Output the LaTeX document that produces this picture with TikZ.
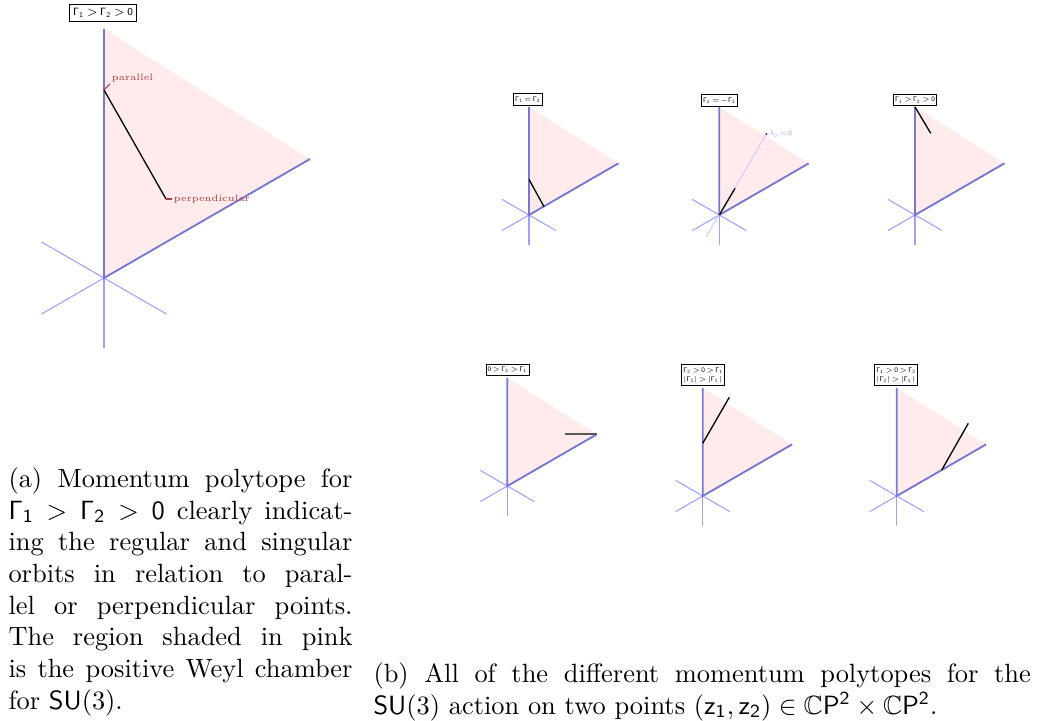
\RequirePackage{fix-cm}
\documentclass[tikz,border=0pt]{standalone}
\usepackage{amssymb}
\definecolor{axisblue}{RGB}{160,160,255}
\definecolor{edgeblue}{RGB}{120,120,210}
\definecolor{pinkfill}{RGB}{255,235,235}
\definecolor{labred}{RGB}{170,60,60}
\definecolor{lavline}{RGB}{205,205,255}
\definecolor{lamblue}{RGB}{150,150,255}
\newcommand\sG{\mathsf{\Gamma}}
\newcommand\weyl[5]{%
  \begin{scope}[shift={(#2,#3)}, scale=#4]
    \coordinate (#1O) at (0,0);
    \coordinate (#1A) at (0,-249);
    \coordinate (#1B) at (206,-119);
    \coordinate (#1D) at (0,70);
    \coordinate (#1L) at (-62.4,36);
    \coordinate (#1U) at (-62.4,-36);
    \coordinate (#1R) at (62.4,36);
    \fill[pinkfill] (#1O) -- (#1A) -- (#1B) -- cycle;
    \draw[weylaxis] (#1D) -- (#1A);
    \draw[weylaxis] (#1L) -- (#1B);
    \draw[weylaxis] (#1U) -- (#1R);
    \draw[weyledge] (#1A) -- (#1O) -- (#1B);
    #5
  \end{scope}}
\newcommand\tightrel{\thickmuskip=2.5mu plus 1mu\medmuskip=1.5mu}
\tikzset{
  weylaxis/.style={draw=axisblue, line width=0.4pt},
  weyledge/.style={draw=edgeblue, line width=0.7pt},
  orbit/.style={draw=black, line width=0.5pt},
  bigtag/.style={draw, line width=0.4pt, inner xsep=1.2pt, inner ysep=1.6pt, font=\fontsize{4}{4.8}\selectfont\tightrel},
  smalltag/.style={draw, line width=0.35pt, inner xsep=0.6pt, inner ysep=1pt, font=\fontsize{2.6}{3.4}\selectfont\tightrel, align=left},
  ptlabel/.style={text=labred, font=\fontsize{3.5}{4.2}\selectfont, inner sep=0.5pt},
  captext/.style={inner sep=0pt, font=\fontsize{10}{12}\selectfont, align=justify},
}
\begin{document}
\begin{tikzpicture}[x=0.3788pt, y=-0.3788pt]
\useasboundingbox (0,0) rectangle (1038,721);
% (a) big polytope
\weyl{a}{104}{278}{1}{
  \coordinate (ap) at (0,-188);
  \coordinate (aq) at (62,-79);
  \coordinate (apt) at (6,-194);
  \coordinate (aqt) at (68,-79);
  \draw[orbit] (ap) -- (aq);
  \draw[labred, line width=0.4pt] (ap) -- (apt);
  \draw[labred, line width=0.4pt] (aq) -- (aqt);
}
\node[ptlabel, anchor=south west] (parl) at (apt) {parallel};
\node[ptlabel, anchor=west] (perp) at (aqt) {perpendicular};
\node[bigtag] (ta) at (103,13) {$\sG_{\mathsf{1}}>\sG_{\mathsf{2}}>\mathsf{0}$};
% (b) six polytopes
\weyl{b}{529}{215}{0.434}{
  \coordinate (bp) at (0,-82);
  \coordinate (bq) at (34.6,-19);
  \draw[orbit] (bp) -- (bq);
}
\node[smalltag] (tb) at (528,99.5) {$\sG_{\mathsf{1}}=\sG_{\mathsf{2}}$};
\weyl{c}{719.3}{215}{0.434}{
  \coordinate (cl0) at (-30,50);
  \coordinate (cl1) at (108.3,-186.6);
  \coordinate (cq) at (36.2,-61.5);
  \draw[lavline, line width=0.4pt] (cl0) -- (cl1);
  \fill[blue] (cl1) circle (2.2);
  \draw[orbit] (cO) -- (cq);
}
\node[anchor=west, inner sep=0.8pt, text=lamblue, font=\fontsize{2.6}{3}\selectfont\tightrel] (lam) at (cl1) {$\lambda_{\mathsf{2}}=\mathsf{0}$};
\node[smalltag] (tc) at (719.5,100.5) {$\sG_{\mathsf{1}}=-\sG_{\mathsf{2}}$};
\weyl{d}{915}{215}{0.434}{
  \coordinate (dq) at (36.2,-188.2);
  \draw[orbit] (dA) -- (dq);
}
\node[smalltag] (td) at (915,100) {$\sG_{\mathsf{1}}>\sG_{\mathsf{2}}>\mathsf{0}$};
\weyl{e}{507.3}{486}{0.434}{
  \coordinate (eq) at (133,-119);
  \draw[draw=black!65, line width=0.7pt] (eB) -- (eq);
}
\node[smalltag] (te) at (507.5,369.7) {$\mathsf{0}>\sG_{\mathsf{2}}>\sG_{\mathsf{1}}$};
\weyl{f}{702.7}{496}{0.434}{
  \coordinate (fp) at (0,-121.4);
  \coordinate (fq) at (61.3,-227.4);
  \draw[orbit] (fp) -- (fq);
}
\node[smalltag] (tf) at (703.3,375) {$\sG_{\mathsf{2}}>\mathsf{0}>\sG_{\mathsf{1}}$\\$|\sG_{\mathsf{2}}|>|\sG_{\mathsf{1}}|$};
\weyl{g}{896.7}{496}{0.434}{
  \coordinate (gp) at (103.7,-59.9);
  \coordinate (gq) at (165,-167.5);
  \draw[orbit] (gp) -- (gq);
}
\node[smalltag] (tg) at (896.3,375) {$\sG_{\mathsf{1}}>\mathsf{0}>\sG_{\mathsf{2}}$\\$|\sG_{\mathsf{2}}|>|\sG_{\mathsf{1}}|$};
% captions
\node[captext, text width=130.3pt, anchor=north west] (capa) at (8,467)
{(a) Momentum polytope for\linebreak
$\sG_{\mathsf{1}}>\sG_{\mathsf{2}}>\mathsf{0}$ clearly indicat-\linebreak
ing the regular and singular\linebreak
orbits in relation to paral-\linebreak
lel or perpendicular points.\linebreak
The region shaded in pink\linebreak
is the positive Weyl chamber\linebreak
for $\mathsf{SU}(3)$.};
\node[captext, text width=249pt, anchor=north west] (capb) at (373,662)
{(b) All of the different momentum polytopes for the\linebreak
$\mathsf{SU}(3)$ action on two points $(\mathsf{z}_{\mathsf{1}},\mathsf{z}_{\mathsf{2}})\in\mathbb{C}\mathsf{P}^{\mathsf{2}}\times\mathbb{C}\mathsf{P}^{\mathsf{2}}$.};
\end{tikzpicture}
\end{document}
